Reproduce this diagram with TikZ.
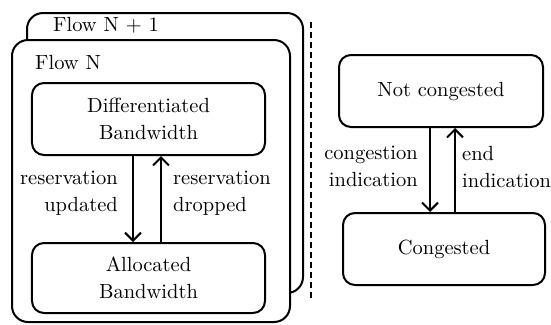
\documentclass[tikz,border=0pt]{standalone}
\usepackage{fontspec}
\newfontfamily\lmten{lmroman10-regular}[Extension=.otf]
\usetikzlibrary{arrows.meta,calc}
\begin{document}
\begin{tikzpicture}[x=1bp,y=-1bp,
  every node/.style={font=\lmten\fontsize{20.5bp}{27bp}\selectfont},
  state/.style={draw,line width=2bp,rounded corners=12bp,align=center,inner sep=0pt,fill=white},
  flowbox/.style={draw,line width=2bp,rounded corners=16bp,fill=white},
  lbl/.style={inner sep=0pt},
  arr/.style={line width=2bp,-{Straight Barb[length=8bp,width=16bp,line width=2bp]}}]
\useasboundingbox (0,0) rectangle (551,324);
% flow containers
\draw[flowbox] (27,13) rectangle (303,293);
\node[lbl,anchor=west] (fn1) at (53,25) {Flow N + 1};
\draw[flowbox] (12,40) rectangle (290,322);
\node[lbl,anchor=west] (fn) at (35,62) {Flow N};
% dashed separator
\coordinate (s1) at (311,22);
\coordinate (s2) at (311,300);
\draw[line width=2.6bp,dash pattern=on 6bp off 4bp] (s1) -- (s2);
% left states
\node[state,minimum width=233bp,minimum height=72bp] (db) at (148.5,119) {Differentiated\\Bandwidth};
\node[state,minimum width=233bp,minimum height=70bp] (ab) at (148.5,278) {Allocated\\Bandwidth};
\coordinate (x1) at (133,0);
\coordinate (x2) at (161,0);
\draw[arr] (db.south -| x1) -- (ab.north -| x1);
\draw[arr] (ab.north -| x2) -- (db.south -| x2);
\node[lbl,align=right,anchor=east] (ru) at (118,193.5) {reservation\\updated};
\node[lbl,align=left,anchor=west] (rd) at (173,193.5) {reservation\\dropped};
% right states
\node[state,minimum width=204bp,minimum height=72bp] (nc) at (441,91) {Not congested};
\node[state,minimum width=202bp,minimum height=72bp] (cg) at (444,249) {Congested};
\coordinate (x3) at (430,0);
\coordinate (x4) at (455,0);
\draw[arr] (nc.south -| x3) -- (cg.north -| x3);
\draw[arr] (cg.north -| x4) -- (nc.south -| x4);
\node[lbl,align=right,anchor=east] (ci) at (418,166.5) {congestion\\indication};
\node[lbl,align=left,anchor=west] (ei) at (462,166.5) {end\\indication};
\end{tikzpicture}
\end{document}
